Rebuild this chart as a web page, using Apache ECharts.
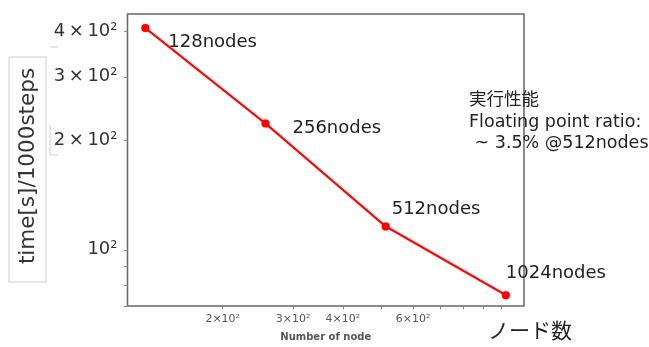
<!DOCTYPE html>
<html><head><meta charset="utf-8">
<script src="https://cdn.jsdelivr.net/npm/echarts@6/dist/echarts.min.js"></script>
<style>html,body{margin:0;padding:0;background:#fff}#c{width:649px;height:347px}</style>
</head><body><div id="c"></div>
<script>
const nodes = [128, 256, 512, 1024];
const times = [409, 223, 116, 75];
const pointLabels = ['128nodes', '256nodes', '512nodes', '1024nodes'];
const yTickValues = [70, 80, 90, 100, 200, 300, 400];
const yLabelValues = [100, 200, 300, 400];
const xTickValues = [200, 300, 400, 500, 600, 700, 800, 900, 1000];
const xLabelValues = [200, 300, 400, 600];
const yAxisTitle = 'time[s]/1000steps';
const xAxisTitle = 'Number of node';
const xAxisJa = 'ノード数';
const noteLines = ['実行性能', 'Floating point ratio:', ' ~ 3.5% @512nodes'];

const FONT = '"DejaVu Sans", "Noto Sans CJK JP", sans-serif';
const JFONT = '"Noto Sans CJK JP", sans-serif';
const labelOffsets = [[14, 14], [18, 5], [-3, -17], [-9, -22]];
const fmtX = v => { const k = Math.round(v / 100); return k === 1 ? '10²' : k + '×10²'; };
const fmtY = v => { const k = Math.round(v / 100); return k === 1 ? '10²' : k + '\u2009×\u200910²'; };

const chart = echarts.init(document.getElementById('c'), null, {renderer: 'canvas'});
chart.setOption({
  animation: false,
  backgroundColor: '#fff',
  grid: {left: 127.5, top: 14, right: 125, bottom: 37, show: true, borderColor: '#666', borderWidth: 1.5, backgroundColor: 'transparent'},
  xAxis: {
    type: 'log', min: 115.5, max: 1137,
    axisLine: {show: false},
    splitLine: {show: false}, minorTick: {show: false},
    axisTick: {show: true, customValues: xTickValues, length: 3.5, lineStyle: {color: '#888', width: 1}},
    axisLabel: {customValues: xLabelValues, formatter: fmtX, fontFamily: FONT, fontSize: 11, color: '#555', margin: 8},
    name: xAxisTitle, nameLocation: 'middle', nameGap: 26,
    nameTextStyle: {fontFamily: FONT, fontSize: 10, color: '#555', fontWeight: 'bold'}
  },
  yAxis: {
    type: 'log', min: 70, max: 447,
    axisLine: {show: false},
    splitLine: {show: false}, minorTick: {show: false},
    axisTick: {show: true, customValues: yTickValues, length: 3.5, lineStyle: {color: '#888', width: 1}},
    axisLabel: {customValues: yLabelValues, formatter: fmtY, fontFamily: FONT, fontSize: 18, color: '#333', margin: 10, padding: [6, 0, 0, 0]}
  },
  graphic: [
    {type: 'rect', shape: {x: 9, y: 57, width: 37, height: 225}, style: {fill: 'none', stroke: '#ccc', lineWidth: 1}, z: -1},
    {type: 'text', x: 28, y: 166, rotation: Math.PI / 2,
      style: {text: yAxisTitle, font: '21.5px ' + FONT, fill: '#333', align: 'center', verticalAlign: 'middle'}},
    {type: 'polyline', shape: {points: [[50, 47], [58, 47]]}, style: {stroke: '#ccc', lineWidth: 1}},
    {type: 'polyline', shape: {points: [[50, 125], [50, 155], [58, 155]]}, style: {stroke: '#ccc', lineWidth: 1}},
    {type: 'text', x: 530, y: 330,
      style: {text: xAxisJa, font: '21px ' + JFONT, fill: '#222', align: 'center', verticalAlign: 'middle'}},
    {type: 'text', x: 469, y: 90,
      style: {text: noteLines.join('\n'), font: '17.5px ' + FONT, lineHeight: 21.5, fill: '#222', align: 'left', verticalAlign: 'top'}}
  ],
  series: [{
    type: 'line',
    data: nodes.map((n, i) => ({
      value: [n, times[i]],
      label: {show: true, formatter: pointLabels[i], position: 'right', offset: labelOffsets[i]}
    })),
    symbol: 'circle', symbolSize: 8,
    itemStyle: {color: '#ff0000', shadowBlur: 2, shadowColor: 'rgba(0,0,0,0.35)'},
    lineStyle: {color: '#ff0000', width: 2, shadowBlur: 2, shadowColor: 'rgba(0,0,0,0.35)'},
    label: {fontFamily: FONT, fontSize: 18, color: '#222'}
  }]
});
</script></body></html>
